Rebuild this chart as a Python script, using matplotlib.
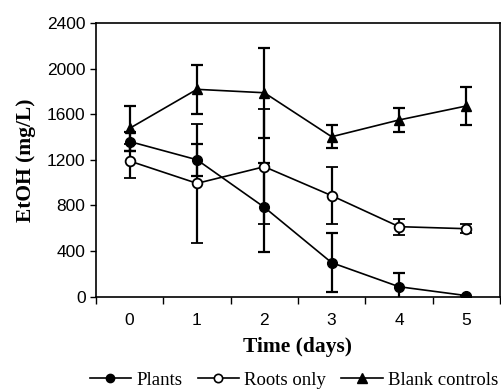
import matplotlib
matplotlib.use("Agg")
import matplotlib.pyplot as plt
from matplotlib.lines import Line2D
import numpy as np

days = [0, 1, 2, 3, 4, 5]
plants = [1360, 1200, 783, 297, 86, 8]
plants_err = [85, 140, 390, 260, 120, 0]
roots = [1189, 993, 1139, 885, 613, 595]
roots_err = [150, 525, 505, 250, 70, 40]
blank = [1476, 1818, 1788, 1402, 1549, 1672]
blank_err = [198, 215, 393, 103, 105, 163]
yticks = [0, 400, 800, 1200, 1600, 2000, 2400]
labels = ["Plants", "Roots only", "Blank controls"]

fig = plt.figure(figsize=(5.01, 3.90), dpi=100)
ax = fig.add_axes([0.1916, 0.2397, 0.8064, 0.7013])

common = dict(color="black", linewidth=1.2, elinewidth=1.6, capsize=4.5, capthick=1.6)
ax.errorbar(days, plants, yerr=plants_err, marker="o", markersize=7,
            markerfacecolor="black", markeredgecolor="black", zorder=3, **common)
ax.errorbar(days, roots, yerr=roots_err, marker="o", markersize=7,
            markerfacecolor="white", markeredgecolor="black", markeredgewidth=1.3,
            zorder=4, **common)
ax.errorbar(days, blank, yerr=blank_err, marker="^", markersize=7.5,
            markerfacecolor="black", markeredgecolor="black", zorder=3, **common)

ax.set_xlim(-0.5, 5.5)
ax.set_ylim(0, 2400)
ax.set_yticks(yticks)
ax.set_xticks(days)
ax.set_xticks(np.arange(-0.5, 5.6, 1.0), minor=True)
ax.tick_params(axis="x", which="major", length=0, pad=12)
ax.tick_params(axis="x", which="minor", length=5, direction="out", width=1)
ax.tick_params(axis="y", length=4, direction="out", width=1)
for lab in ax.get_xticklabels() + ax.get_yticklabels():
    lab.set_fontfamily("Liberation Sans")
    lab.set_fontsize(12.5)
for sp in ax.spines.values():
    sp.set_linewidth(1.2)

ax.set_xlabel("Time (days)", fontfamily="Liberation Serif", fontweight="bold", fontsize=15.5, labelpad=6)
ax.set_ylabel("EtOH (mg/L)", fontfamily="Liberation Serif", fontweight="bold", fontsize=15.5, labelpad=8)

handles = [
    Line2D([], [], color="black", linewidth=1.2, marker="o", markersize=6,
           markerfacecolor="black", markeredgecolor="black"),
    Line2D([], [], color="black", linewidth=1.2, marker="o", markersize=6,
           markerfacecolor="white", markeredgecolor="black", markeredgewidth=1.2),
    Line2D([], [], color="black", linewidth=1.2, marker="^", markersize=6.5,
           markerfacecolor="black", markeredgecolor="black"),
]
fig.legend(handles, labels, loc="center", bbox_to_anchor=(0.587, 0.025), ncol=3, frameon=False,
           prop={"family": "Liberation Serif", "size": 13.5}, handlelength=2.2,
           columnspacing=0.8, handletextpad=0.3, borderaxespad=0, borderpad=0)

fig.savefig("out.png", dpi=100)
